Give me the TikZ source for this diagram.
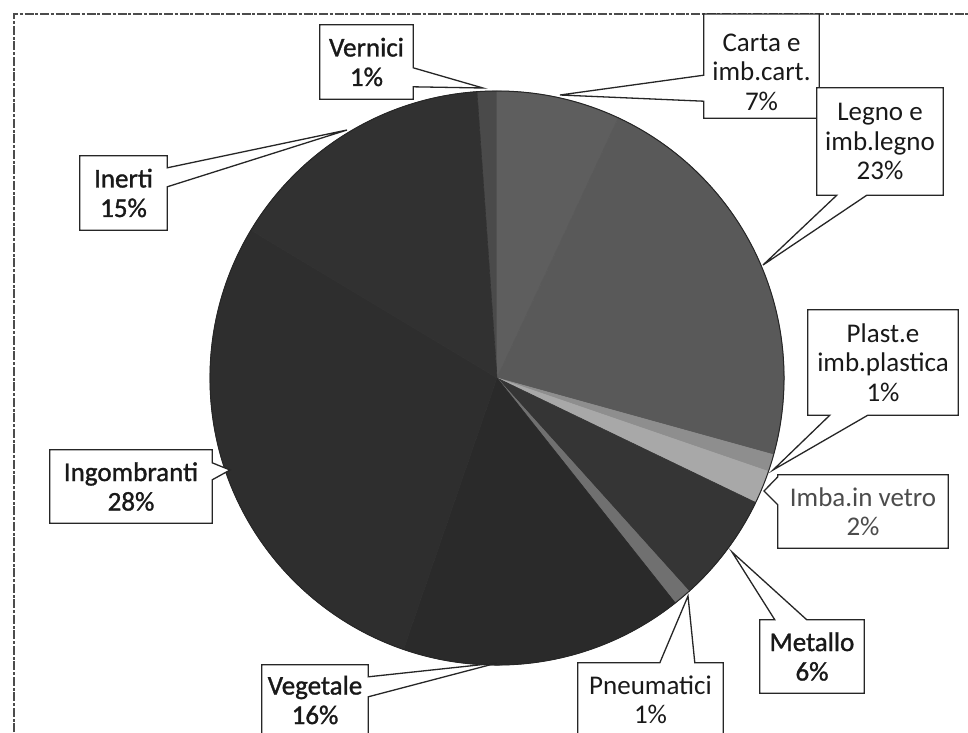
\documentclass[tikz,border=0pt]{standalone}
\usepackage{fontspec}
\setmainfont{Carlito}
\newfontfamily\heavyfont[FakeBold=1.2]{Carlito}
\usetikzlibrary{calc}
\pgfdeclarelayer{bg}
\pgfsetlayers{bg,main}
\definecolor{cVern}{HTML}{4A4A4A}
\definecolor{cCarta}{HTML}{5E5E5E}
\definecolor{cLegno}{HTML}{595959}
\definecolor{cPlast}{HTML}{8E8E8E}
\definecolor{cVetro}{HTML}{A8A8A8}
\definecolor{cMet}{HTML}{353535}
\definecolor{cPneu}{HTML}{707070}
\definecolor{cVeg}{HTML}{2A2A2A}
\definecolor{cIngo}{HTML}{2E2E2E}
\definecolor{cIner}{HTML}{313131}
\newcommand\pieslice[3]{\filldraw[fill=#3, draw=#3, line width=0.6pt, line join=round] (C) -- ($(C)+(#1:287)$) arc[start angle=#1, end angle=#2, radius=287] -- cycle;}
\tikzset{
  lbl/.style={inner sep=0pt, align=center, font=\fontsize{27pt}{29.5pt}\selectfont, text=black!90},
  heavy/.style={font=\fontsize{27pt}{29.5pt}\heavyfont},
  co/.style={draw=black!85, fill=white, line width=1.3pt, line join=miter},
  scanframe/.style={draw=black!70, line width=1.2pt, dash pattern=on 9pt off 1.5pt on 3pt off 2pt}
}
\begin{document}
\begin{tikzpicture}[x=1pt,y=-1pt]
\useasboundingbox (0,0) rectangle (968,732);
\coordinate (C) at (497,378);
\coordinate (ftop) at (0,14);
% callout tips
\coordinate (tVern) at (483,88);
\coordinate (tCarta) at (560,95);
\coordinate (tLegno) at (763,265);
\coordinate (tPlast) at (773,470);
\coordinate (tVetro) at (764,491);
\coordinate (tMet) at (732,552);
\coordinate (tPneu) at (688,596);
\coordinate (tVeg) at (497,663);
\coordinate (tIngo) at (230,470);
\coordinate (tIner) at (347,130);
% labels
\node[lbl, heavy, minimum width=93pt, minimum height=74pt] (vern) at (366.5,62) {Vernici\\1\%};
\node[lbl, minimum width=115pt, minimum height=92pt] (carta) at (761.5,72) {Carta e\\imb.cart.\\7\%};
\node[lbl, minimum width=126pt, minimum height=107pt] (legno) at (880,141.5) {Legno e\\imb.legno\\23\%};
\node[lbl, minimum width=150pt, minimum height=105pt] (plast) at (883,362.5) {Plast.e\\imb.plastica\\1\%};
\node[lbl, minimum width=170pt, minimum height=73pt, text=black!70] (vetro) at (863,511.5) {Imba.in vetro\\2\%};
\node[lbl, heavy, minimum width=104pt, minimum height=73pt] (met) at (812,656.5) {Metallo\\6\%};
\node[lbl, minimum width=145pt, minimum height=74pt] (pneu) at (650.5,700) {Pneumatici\\1\%};
\node[lbl, heavy, minimum width=106pt, minimum height=70pt] (veg) at (315,700) {Vegetale\\16\%};
\node[lbl, heavy, minimum width=162pt, minimum height=73pt] (ingo) at (131,486.5) {Ingombranti\\28\%};
\node[lbl, heavy, minimum width=87pt, minimum height=74pt] (iner) at (123.5,193) {Inerti\\15\%};
\begin{pgfonlayer}{bg}
\fill[white] (0,0) rectangle (968,732);
% pie
\pieslice{-94}{-90}{cVern}
\pieslice{-90}{-65}{cCarta}
\pieslice{-65}{15.5}{cLegno}
\pieslice{15.5}{19}{cPlast}
\pieslice{19}{25.7}{cVetro}
\pieslice{25.7}{48}{cMet}
\pieslice{48}{51.6}{cPneu}
\pieslice{51.6}{109}{cVeg}
\pieslice{109}{211}{cIngo}
\pieslice{211}{266}{cIner}
\draw[black!85, line width=1pt] (C) circle[radius=287];
% scanned frame
\draw[scanframe] (14,732) -- (14,14) -- (968,14);
% callout outlines
\path[co] (vern.north west) -- (vern.north east) -- ($(vern.north east)+(0,43)$) -- (tVern) -- ($(vern.north east)+(0,62)$) -- (vern.south east) -- (vern.south west) -- cycle;
\path[co] (carta.west |- ftop) -- (carta.east |- ftop) -- (carta.south east) -- (carta.south west) -- ($(carta.south west)+(0,-17)$) -- (tCarta) -- ($(carta.south west)+(0,-43)$) -- cycle;
\path[co] (legno.north west) -- (legno.north east) -- (legno.south east) -- ($(legno.south west)+(50,0)$) -- (tLegno) -- ($(legno.south west)+(20,0)$) -- (legno.south west) -- cycle;
\path[co] (plast.north west) -- (plast.north east) -- (plast.south east) -- ($(plast.south west)+(60,0)$) -- (tPlast) -- ($(plast.south west)+(22,0)$) -- (plast.south west) -- cycle;
\path[co] (vetro.north west) -- (vetro.north east) -- (vetro.south east) -- (vetro.south west) -- ($(vetro.north west)+(0,30)$) -- (tVetro) -- ($(vetro.north west)+(0,2)$) -- cycle;
\path[co] (met.north west) -- ($(met.north west)+(15,0)$) -- (tMet) -- ($(met.north west)+(47,0)$) -- (met.north east) -- (met.south east) -- (met.south west) -- cycle;
\path[co] (pneu.north west) -- ($(pneu.north west)+(82,0)$) -- (tPneu) -- ($(pneu.north west)+(117,0)$) -- (pneu.north east) -- (pneu.south east) -- (pneu.south west) -- cycle;
\path[co] (veg.north west) -- (veg.north east) -- ($(veg.north east)+(0,12)$) -- (tVeg) -- ($(veg.north east)+(0,32)$) -- (veg.south east) -- (veg.south west) -- cycle;
\path[co] (ingo.north west) -- (ingo.north east) -- ($(ingo.north east)+(0,13)$) -- (tIngo) -- ($(ingo.north east)+(0,30)$) -- (ingo.south east) -- (ingo.south west) -- cycle;
\path[co] (iner.north west) -- (iner.north east) -- ($(iner.north east)+(0,12)$) -- (tIner) -- ($(iner.north east)+(0,31)$) -- (iner.south east) -- (iner.south west) -- cycle;
\end{pgfonlayer}
\end{tikzpicture}
\end{document}
